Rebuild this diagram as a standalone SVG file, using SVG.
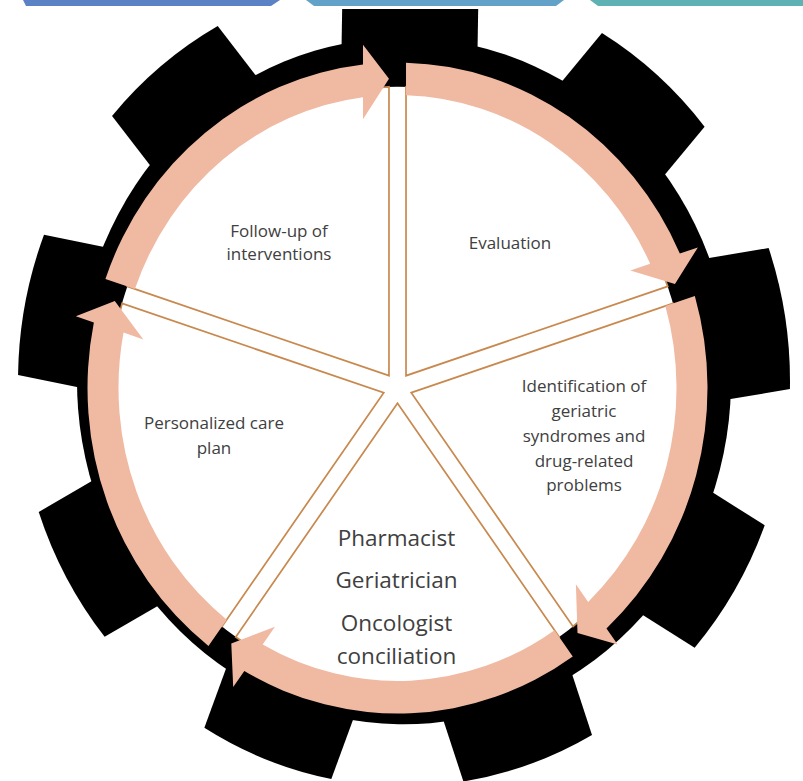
<svg xmlns="http://www.w3.org/2000/svg" width="803" height="781" viewBox="0 0 803 781">
  <defs>
    <style>
      .lbl{font-family:"Open Sans","Liberation Sans",sans-serif;font-size:17px;fill:#404040;text-anchor:middle}
      .big{font-size:22.5px}
      .sector{fill:#ffffff;stroke:#c8894f;stroke-width:1.7}
      .arrow{fill:#f0b9a2}
    </style>
    <!-- one pie wedge (0..72 deg), pulled out from the hub along its bisector -->
    <path id="sector" d="M8.52,-11.73 L8.52,-286.87 A287,287 0 0 1 270.2,-96.75 Z"/>
    <!-- curved block arrow covering the same 72 deg span -->
    <path id="arc-arrow" d="M8.52,-309.88 A310,310 0 0 1 282.33,-128.01 L300.34,-133.86 L277.46,-99.11 L232.81,-111.92 L252.65,-118.37 A279,279 0 0 0 8.52,-278.87 Z"/>
    <!-- single parallel-sided gear tooth pointing up -->
    <path id="tooth" d="M-68,-300 L-68,-379.96 A386,386 0 0 1 68,-379.96 L68,-300 Z"/>
    <clipPath id="frame">
      <rect x="0" y="9" width="803" height="772"/>
    </clipPath>
  </defs>

  <rect width="803" height="781" fill="#ffffff"/>

  <!-- header strips -->
  <g id="header-bars">
    <polygon points="23,0 280,0 271,6 26,6" fill="#5b82c5"/>
    <polygon points="306,0 564,0 556,6 314,6" fill="#62a2c8"/>
    <polygon points="590,0 803,0 803,6 598,6" fill="#5fb2b4"/>
  </g>

  <!-- gear body -->
  <g id="gear" clip-path="url(#frame)">
    <g transform="translate(404 381) scale(1 1.05) rotate(1)" fill="#000000">
      <circle r="327"/>
      <use href="#tooth"/>
      <use href="#tooth" transform="rotate(40)"/>
      <use href="#tooth" transform="rotate(80)"/>
      <use href="#tooth" transform="rotate(120)"/>
      <use href="#tooth" transform="rotate(160)"/>
      <use href="#tooth" transform="rotate(200)"/>
      <use href="#tooth" transform="rotate(240)"/>
      <use href="#tooth" transform="rotate(280)"/>
      <use href="#tooth" transform="rotate(320)"/>
    </g>
  </g>

  <!-- inner face of the gear -->
  <ellipse id="face" cx="397.5" cy="388" rx="287" ry="301.35" fill="#ffffff"/>

  <!-- five process steps -->
  <g id="node-evaluation">
    <use href="#sector" class="sector" transform="translate(397.5 388) scale(1 1.05)"/>
    <text class="lbl" x="510" y="248.5">Evaluation</text>
  </g>
  <g id="node-identification">
    <use href="#sector" class="sector" transform="translate(397.5 388) scale(1 1.05) rotate(72)"/>
    <text class="lbl" x="584" y="391.5">Identification of</text>
    <text class="lbl" x="584" y="416.5">geriatric</text>
    <text class="lbl" x="584" y="441.5">syndromes and</text>
    <text class="lbl" x="584" y="466.5">drug-related</text>
    <text class="lbl" x="584" y="491">problems</text>
  </g>
  <g id="node-conciliation">
    <use href="#sector" class="sector" transform="translate(397.5 388) scale(1 1.05) rotate(144)"/>
    <text class="lbl big" x="396.5" y="546">Pharmacist</text>
    <text class="lbl big" x="396.5" y="588">Geriatrician</text>
    <text class="lbl big" x="396.5" y="630.5">Oncologist</text>
    <text class="lbl big" x="396.5" y="663.5">conciliation</text>
  </g>
  <g id="node-care-plan">
    <use href="#sector" class="sector" transform="translate(397.5 388) scale(1 1.05) rotate(216)"/>
    <text class="lbl" x="214" y="429">Personalized care</text>
    <text class="lbl" x="214" y="454">plan</text>
  </g>
  <g id="node-follow-up">
    <use href="#sector" class="sector" transform="translate(397.5 388) scale(1 1.05) rotate(288)"/>
    <text class="lbl" x="279" y="237">Follow-up of</text>
    <text class="lbl" x="279" y="259.5">interventions</text>
  </g>

  <!-- clockwise cycle arrows -->
  <g id="connectors" class="arrow" transform="translate(397.5 388) scale(1 1.05)">
    <use href="#arc-arrow"/>
    <use href="#arc-arrow" transform="rotate(72)"/>
    <use href="#arc-arrow" transform="rotate(144)"/>
    <use href="#arc-arrow" transform="rotate(216)"/>
    <use href="#arc-arrow" transform="rotate(288)"/>
  </g>
</svg>
